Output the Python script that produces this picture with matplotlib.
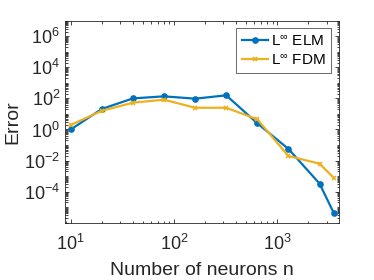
import matplotlib
matplotlib.use("Agg")
import matplotlib.pyplot as plt
from matplotlib.ticker import LogLocator, NullFormatter

plt.rcParams['font.family'] = ['Liberation Sans', 'DejaVu Sans']
plt.rcParams['mathtext.fontset'] = 'custom'
plt.rcParams['mathtext.rm'] = 'Liberation Sans'
plt.rcParams['mathtext.it'] = 'Liberation Sans:italic'
plt.rcParams['mathtext.bf'] = 'Liberation Sans:bold'
plt.rcParams['mathtext.fallback'] = 'cm'

neurons = [10, 20, 40, 80, 160, 320, 640, 1280, 2560, 3500]
err_elm = [1.0, 21, 100, 136, 96, 158, 2.5, 0.056, 3.3e-4, 4.5e-6]
err_fdm = [1.95, 16, 53, 83, 25, 25, 4.5, 0.0196, 6.3e-3, 7.9e-4]

blue = '#0072BD'
yellow = '#EDB120'

fig = plt.figure(figsize=(3.74, 2.8), dpi=100)
ax = fig.add_axes([0.1738, 0.2046, 0.9064 - 0.1738, 0.926 - 0.2046])

ax.plot(neurons, err_elm, color=blue, lw=1.6, marker='o', ms=3.8,
        mfc=blue, mec=blue, label=r'L$^{\infty}$ ELM')
ax.plot(neurons, err_fdm, color=yellow, lw=1.6, marker='x', ms=3.5,
        mew=1.2, label=r'L$^{\infty}$ FDM')

ax.set_xscale('log')
ax.set_yscale('log')
ax.set_xlim(8.8, 3950)
ax.set_ylim(1e-6, 1e7)

ax.set_yticks([1e-4, 1e-2, 1e0, 1e2, 1e4, 1e6])
ax.yaxis.set_minor_locator(LogLocator(base=10, subs=[1.0] + list(range(2, 10)), numticks=40))
ax.yaxis.set_minor_formatter(NullFormatter())
ax.set_xticks([1e1, 1e2, 1e3])
ax.xaxis.set_minor_locator(LogLocator(base=10, subs=list(range(2, 10)), numticks=20))
ax.xaxis.set_minor_formatter(NullFormatter())

ax.tick_params(which='both', direction='in', top=True, right=True,
               labelsize=13, colors='#262626', width=0.6)
ax.tick_params(which='major', length=3)
ax.tick_params(which='minor', length=1.8)
ax.tick_params(axis='x', which='major', pad=8)
for s in ax.spines.values():
    s.set_linewidth(0.6)
    s.set_color('#262626')

ax.set_xlabel('Number of neurons n', fontsize=14, color='#262626', labelpad=6)
ax.set_ylabel('Error', fontsize=14, color='#262626', labelpad=2)

leg = ax.legend(loc='upper right', fontsize=11, frameon=True, fancybox=False,
                edgecolor='#262626', handlelength=1.75, handletextpad=0.2,
                borderpad=0.35, labelspacing=0.3, borderaxespad=0.5)
leg.get_frame().set_linewidth(0.6)

fig.savefig('out.png', dpi=100)
